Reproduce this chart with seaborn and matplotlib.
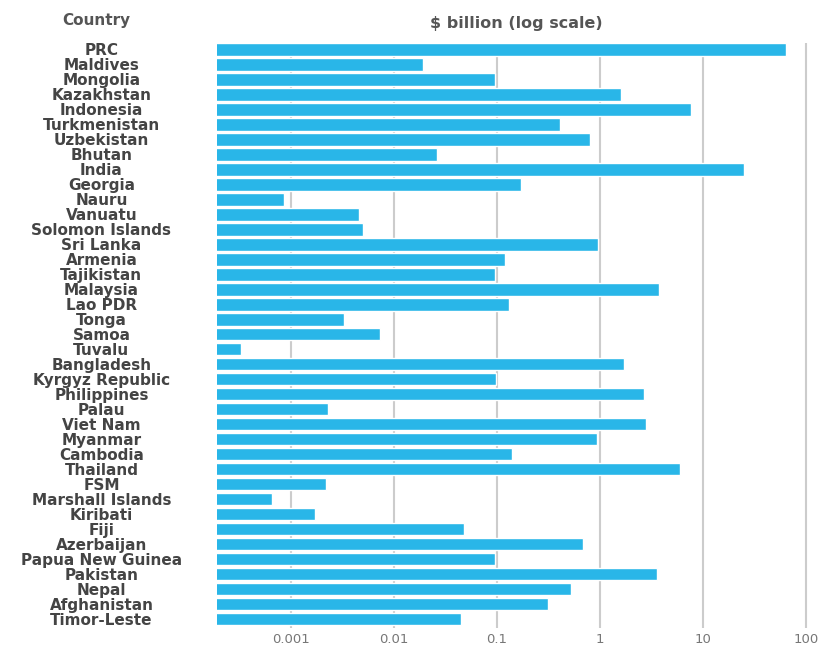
import matplotlib
matplotlib.use("Agg")
import matplotlib.pyplot as plt
import matplotlib.ticker as mticker
import seaborn as sns
import pandas as pd

countries = ['PRC', 'Maldives', 'Mongolia', 'Kazakhstan', 'Indonesia', 'Turkmenistan',
             'Uzbekistan', 'Bhutan', 'India', 'Georgia', 'Nauru', 'Vanuatu',
             'Solomon Islands', 'Sri Lanka', 'Armenia', 'Tajikistan', 'Malaysia',
             'Lao PDR', 'Tonga', 'Samoa', 'Tuvalu', 'Bangladesh', 'Kyrgyz Republic',
             'Philippines', 'Palau', 'Viet Nam', 'Myanmar', 'Cambodia', 'Thailand',
             'FSM', 'Marshall Islands', 'Kiribati', 'Fiji', 'Azerbaijan',
             'Papua New Guinea', 'Pakistan', 'Nepal', 'Afghanistan', 'Timor-Leste']

# $ billion
values = [64, 0.019, 0.095, 1.6, 7.6, 0.41,
          0.80, 0.026, 25, 0.17, 0.00085, 0.0046,
          0.0050, 0.95, 0.12, 0.095, 3.7,
          0.13, 0.0033, 0.0073, 0.00033, 1.7, 0.097,
          2.7, 0.0023, 2.8, 0.94, 0.14, 6.0,
          0.0022, 0.00065, 0.0017, 0.048, 0.68,
          0.095, 3.6, 0.52, 0.31, 0.045]

tick_vals = [0.001, 0.01, 0.1, 1, 10, 100]
tick_labels = ['0.001', '0.01', '0.1', '1', '10', '100']

df = pd.DataFrame({'Country': countries, 'Value': values})

sns.set_style('white')
plt.rcParams['font.family'] = ['DejaVu Sans']

fig = plt.figure(figsize=(8.24, 6.5), dpi=100)
ax = fig.add_axes([0.263, 0.034, 0.726, 0.900])
ax.set_xscale('log')

sns.barplot(data=df, x='Value', y='Country', orient='h', color='#29b6e8',
            saturation=1, width=0.85, ax=ax)

ax.set_xlim(0.00019, 122)
ax.set_ylim(len(countries) - 0.4, -0.43)

ax.xaxis.set_major_locator(mticker.FixedLocator(tick_vals))
ax.xaxis.set_major_formatter(mticker.FixedFormatter(tick_labels))
ax.xaxis.set_minor_locator(mticker.NullLocator())
ax.grid(axis='x', color='#cccccc', linewidth=1.5)
ax.grid(axis='y', visible=False)
ax.set_axisbelow(True)
sns.despine(ax=ax, left=True, bottom=True)

ax.tick_params(axis='x', length=0, pad=4, labelsize=9.5, labelcolor='#777777')
ax.tick_params(axis='y', length=0, pad=83, labelsize=11, labelcolor='#444444')
for lbl in ax.get_yticklabels():
    lbl.set_horizontalalignment('center')
    lbl.set_fontweight('bold')

ax.set_xlabel('')
ax.set_ylabel('')
ax.set_title('$ billion (log scale)', fontsize=11.5, fontweight='bold',
             color='#555555', pad=11)
fig.text(96 / 824, 1 - 21 / 650, 'Country', ha='center', va='center',
         fontsize=11, fontweight='bold', color='#555555')

fig.savefig('out.png', dpi=100)
